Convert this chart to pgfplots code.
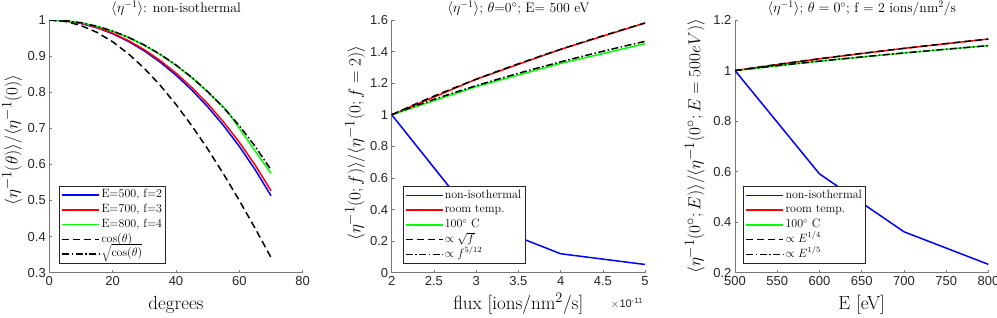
\documentclass[border=0pt]{standalone}
\usepackage{fontspec}
\usepackage{pgfplots}
\pgfplotsset{compat=1.18}
\newfontfamily\tickfont{Liberation Sans}
\definecolor{axgray}{RGB}{120,120,120}
\definecolor{txtgray}{RGB}{38,38,38}
\definecolor{mblue}{RGB}{0,0,255}
\definecolor{mred}{RGB}{255,0,0}
\definecolor{mgreen}{RGB}{0,255,0}
\newcommand{\legfnt}{\fontsize{12}{12}\selectfont}
\pgfplotsset{
  every axis title shift=0pt,
  mstyle/.style={
    scale only axis, width=253.4pt, height=252.7pt, anchor=south west,
    axis x line*=bottom, axis y line*=left,
    axis line style={axgray, line width=0.7pt},
    tick align=inside, major tick length=3pt,
    every tick/.style={axgray, line width=0.7pt},
    tick label style={font=\tickfont\fontsize{13}{13}\selectfont, text=txtgray},
    /pgf/number format/assume math mode=true,
    title style={font=\fontsize{13.8}{14}\selectfont, at={(axis description cs:0.5,1)}, anchor=base, yshift=7.7pt},
    label style={font=\fontsize{19}{20}\selectfont},
    xlabel style={at={(axis description cs:0.5,0)}, anchor=base, yshift=-36.3pt},
    legend style={draw=txtgray, fill=white, font=\legfnt,
      at={(axis description cs:0,0)}, anchor=south west, inner xsep=2pt, inner ysep=1.5pt,
      nodes={text height=8.5pt, text depth=3pt, inner xsep=1.5pt, inner ysep=1.6pt}},
    legend cell align=left,
    legend image code/.code={\draw[##1] (0pt,0pt) -- (37pt,0pt);},
  },
  pb/.style={mblue, line width=1.5pt},
  pr/.style={mred, line width=1.5pt},
  pg/.style={mgreen, line width=1.5pt},
  dsh/.style={black, line width=1.5pt, dash pattern=on 7pt off 4pt},
  dshdot/.style={black, line width=1.5pt, dash pattern=on 7pt off 2.5pt on 1.5pt off 2.5pt},
}
\begin{document}
\begin{tikzpicture}
% ---------------- Panel 1 ----------------
\begin{axis}[mstyle, at={(49.3pt,44.3pt)},
  xmin=0, xmax=80, ymin=0.3, ymax=1,
  xtick={0,20,40,60,80}, ytick={0.3,0.4,0.5,0.6,0.7,0.8,0.9,1},
  title={$\langle\eta^{-1}\rangle$: non-isothermal},
  xlabel={degrees},
  ylabel={$\langle\eta^{-1}(\theta)\rangle/\langle\eta^{-1}(0)\rangle$},
  ylabel style={at={(axis description cs:-0.147,0.525)}, anchor=center},
  legend style={xshift=10pt, yshift=9.7pt},
]
\addplot[pb] coordinates {(0,1)(5,0.99763)(10,0.99052)(15,0.97867)(20,0.96205)(25,0.94064)(30,0.91441)(35,0.88331)(40,0.84724)(45,0.80609)(50,0.75966)(55,0.70770)(60,0.64980)(65,0.58527)(70,0.51307)};
\addlegendentry{E=500, f=2}
\addplot[pr] coordinates {(0,1)(5,0.99772)(10,0.99090)(15,0.97952)(20,0.96354)(25,0.94296)(30,0.91771)(35,0.88773)(40,0.85290)(45,0.81310)(50,0.76810)(55,0.71760)(60,0.66114)(65,0.59801)(70,0.52702)};
\addlegendentry{E=700, f=3}
\addplot[pg] coordinates {(0,1)(5,0.9981)(10,0.9923)(15,0.9826)(20,0.9690)(25,0.9515)(30,0.9300)(35,0.9045)(40,0.8746)(45,0.8403)(50,0.8011)(56,0.7500)(60,0.7000)(65,0.6370)(70,0.5750)};
\addlegendentry{E=800, f=4}
\addplot[dsh] coordinates {(0,1)(5,0.99619)(10,0.98481)(15,0.96593)(20,0.93969)(25,0.90631)(30,0.86603)(35,0.81915)(40,0.76604)(45,0.70711)(50,0.64279)(55,0.57358)(60,0.5)(65,0.42262)(70,0.34202)};
\addlegendentry{$\cos(\theta)$}
\addplot[dshdot] coordinates {(0,1)(5,0.9981)(10,0.9924)(15,0.9828)(20,0.9694)(25,0.9520)(30,0.9306)(35,0.9051)(40,0.8752)(45,0.8409)(50,0.8017)(55,0.7574)(60,0.7071)(65,0.6501)(70,0.5848)};
\addlegendentry{$\sqrt{\cos(\theta)}$}
\end{axis}
% ---------------- Panel 2 ----------------
\begin{axis}[mstyle, at={(391.7pt,44.3pt)},
  xmin=2, xmax=5, ymin=0, ymax=1.6,
  xtick={2,2.5,3,3.5,4,4.5,5}, ytick={0,0.2,0.4,0.6,0.8,1,1.2,1.4,1.6},
  title={$\langle\eta^{-1}\rangle$; $\theta$=0$^\circ$; E= 500 eV},
  xlabel={flux [ions/nm$^2$/s]},
  ylabel={$\langle\eta^{-1}(0;f)\rangle/\langle\eta^{-1}(0;f=2)\rangle$},
  ylabel style={at={(axis description cs:-0.145,0.513)}, anchor=center},
  legend style={xshift=10.9pt, yshift=9.4pt},
]
\addplot[pb] coordinates {(2,1)(3,0.33)(4,0.12)(5,0.052)};
\addlegendentry{non-isothermal}
\addplot[pr] coordinates {(2,1)(3,1.2247)(4,1.4142)(5,1.5811)};
\addlegendentry{room temp.}
\addplot[pg] coordinates {(2,1)(3,1.178)(4,1.325)(5,1.450)};
\addlegendentry{100$^\circ$ C}
\addplot[dsh] coordinates {(2,1)(2.25,1.06066)(2.5,1.11803)(2.75,1.17260)(3,1.22474)(3.25,1.27475)(3.5,1.32288)(3.75,1.36931)(4,1.41421)(4.25,1.45774)(4.5,1.5)(4.75,1.54110)(5,1.58114)};
\addlegendentry{$\propto\sqrt{f}$}
\addplot[dshdot] coordinates {(2,1)(2.25,1.05030)(2.5,1.09744)(2.75,1.14189)(3,1.18404)(3.25,1.22420)(3.5,1.26259)(3.75,1.29942)(4,1.33484)(4.25,1.36898)(4.5,1.40198)(4.75,1.43392)(5,1.46489)};
\addlegendentry{$\propto f^{5/12}$}
\end{axis}
\node[anchor=base east, font=\tickfont\fontsize{11}{11}\selectfont, text=txtgray, inner sep=0pt] at (643pt,10pt) {$\times$10\textsuperscript{-11}};
% ---------------- Panel 3 ----------------
\begin{axis}[mstyle, at={(735pt,44.3pt)},
  xmin=500, xmax=800, ymin=0.2, ymax=1.2,
  xtick={500,550,600,650,700,750,800}, ytick={0.2,0.4,0.6,0.8,1,1.2},
  title={$\langle\eta^{-1}\rangle$; $\theta=0^\circ$; f = 2 ions/nm$^2$/s},
  xlabel={E [eV]},
  ylabel={$\langle\eta^{-1}(0^\circ;E)\rangle/\langle\eta^{-1}(0^\circ;E=500eV)\rangle$},
  ylabel style={at={(axis description cs:-0.159,0.5)}, anchor=center},
  legend style={xshift=8.3pt, yshift=9.4pt},
]
\addplot[pb] coordinates {(500,1)(600,0.591)(700,0.362)(800,0.233)};
\addlegendentry{non-isothermal}
\addplot[pr] coordinates {(500,1)(600,1.04663)(700,1.08776)(800,1.12468)};
\addlegendentry{room temp.}
\addplot[pg] coordinates {(500,1)(600,1.03714)(700,1.06961)(800,1.09856)};
\addlegendentry{100$^\circ$ C}
\addplot[dsh] coordinates {(500,1)(550,1.02411)(600,1.04663)(650,1.06779)(700,1.08776)(750,1.10668)(800,1.12468)};
\addlegendentry{$\propto E^{1/4}$}
\addplot[dshdot] coordinates {(500,1)(550,1.01924)(600,1.03714)(650,1.05387)(700,1.06961)(750,1.08447)(800,1.09856)};
\addlegendentry{$\propto E^{1/5}$}
\end{axis}
\pgfresetboundingbox
\path (0pt,0pt) rectangle (997pt,317pt);
\end{tikzpicture}
\end{document}
